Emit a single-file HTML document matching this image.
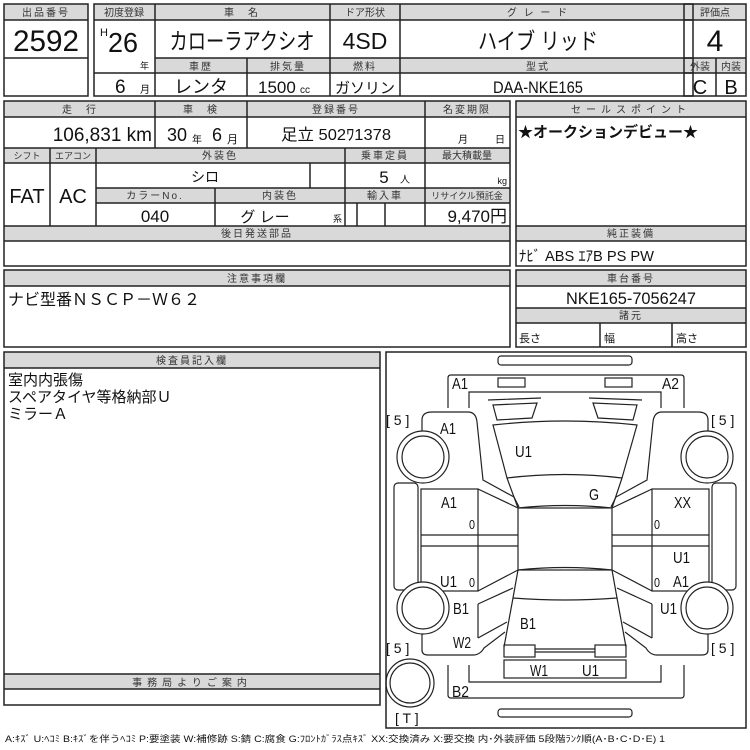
<!DOCTYPE html>
<html><head><meta charset="utf-8"><style>
html,body{margin:0;padding:0;background:#fff;}
svg{display:block;}
text{font-family:"Liberation Sans","Noto Sans CJK JP",sans-serif;fill:#111;}
.h{font-size:10px;letter-spacing:2px;fill:#333;}
.lb{font-size:16px;}
</style></head><body>
<svg width="750" height="750" viewBox="0 0 750 750" xmlns="http://www.w3.org/2000/svg">
<g fill="#d9d9d9" stroke="none">
<rect x="4" y="4" width="84" height="16"/>
<rect x="94" y="4" width="599" height="16"/>
<rect x="155" y="58" width="538" height="15"/>
<rect x="684" y="4" width="62" height="16"/>
<rect x="684" y="58" width="62" height="15"/>
<rect x="4" y="101" width="506" height="16"/>
<rect x="4" y="148" width="506" height="15"/>
<rect x="96" y="188" width="414" height="15"/>
<rect x="4" y="226" width="506" height="15"/>
<rect x="516" y="101" width="230" height="16"/>
<rect x="516" y="226" width="230" height="15"/>
<rect x="4" y="270" width="506" height="16"/>
<rect x="516" y="270" width="230" height="16"/>
<rect x="516" y="308" width="230" height="15"/>
<rect x="4" y="352" width="376" height="16"/>
<rect x="4" y="674" width="376" height="15"/>
</g>
<g fill="none" stroke="#222" stroke-width="1.5">
<rect x="4" y="4" width="84" height="92"/>
<line x1="4" y1="20" x2="88" y2="20"/><line x1="4" y1="58" x2="88" y2="58"/>
<rect x="94" y="4" width="599" height="92"/>
<line x1="94" y1="20" x2="693" y2="20"/><line x1="155" y1="58" x2="693" y2="58"/><line x1="94" y1="73" x2="693" y2="73"/>
<line x1="155" y1="4" x2="155" y2="96"/><line x1="330" y1="4" x2="330" y2="96"/><line x1="400" y1="4" x2="400" y2="96"/><line x1="247" y1="58" x2="247" y2="96"/>
<rect x="684" y="4" width="62" height="92"/>
<line x1="684" y1="20" x2="746" y2="20"/><line x1="684" y1="58" x2="746" y2="58"/><line x1="684" y1="73" x2="746" y2="73"/><line x1="716" y1="58" x2="716" y2="96"/>

<rect x="4" y="101" width="506" height="165"/>
<line x1="4" y1="117" x2="510" y2="117"/><line x1="4" y1="148" x2="510" y2="148"/><line x1="4" y1="163" x2="510" y2="163"/>
<line x1="96" y1="188" x2="510" y2="188"/><line x1="96" y1="203" x2="510" y2="203"/>
<line x1="4" y1="226" x2="510" y2="226"/><line x1="4" y1="241" x2="510" y2="241"/>
<line x1="155" y1="101" x2="155" y2="148"/><line x1="247" y1="101" x2="247" y2="148"/><line x1="425" y1="101" x2="425" y2="226"/>
<line x1="50" y1="148" x2="50" y2="226"/><line x1="96" y1="148" x2="96" y2="226"/><line x1="345" y1="148" x2="345" y2="226"/>
<line x1="310" y1="163" x2="310" y2="188"/><line x1="215" y1="188" x2="215" y2="226"/>
<line x1="357" y1="203" x2="357" y2="226"/><line x1="385" y1="203" x2="385" y2="226"/>

<rect x="516" y="101" width="230" height="165"/>
<line x1="516" y1="117" x2="746" y2="117"/><line x1="516" y1="226" x2="746" y2="226"/><line x1="516" y1="241" x2="746" y2="241"/>

<rect x="4" y="270" width="506" height="77"/><line x1="4" y1="286" x2="510" y2="286"/>
<rect x="516" y="270" width="230" height="77"/>
<line x1="516" y1="286" x2="746" y2="286"/><line x1="516" y1="308" x2="746" y2="308"/><line x1="516" y1="323" x2="746" y2="323"/>
<line x1="600" y1="323" x2="600" y2="347"/><line x1="672" y1="323" x2="672" y2="347"/>

<rect x="4" y="352" width="376" height="353"/>
<line x1="4" y1="368" x2="380" y2="368"/><line x1="4" y1="674" x2="380" y2="674"/><line x1="4" y1="689" x2="380" y2="689"/>
<rect x="386" y="352" width="360" height="376"/>
</g>

<!-- car diagram -->
<g fill="none" stroke="#222" stroke-width="1.2">
<rect x="498" y="356" width="134" height="9" rx="3"/>
<rect x="498" y="709" width="134" height="8" rx="3"/>
<path d="M448,408 L448,378 Q448,375 451,375 L681,375 Q684,375 684,378 L684,408 M469,408 L469,392 L661,392 L661,408"/>
<rect x="498" y="378" width="27" height="9"/>
<rect x="605" y="378" width="27" height="9"/>
<path d="M448,665 L448,695 Q448,698 451,698 L681,698 Q684,698 684,695 L684,665 M469,665 L469,682 L661,682 L661,665"/>
<path d="M488,400 L541,398 M493,405 L537,403 L532,418 L497,420 Z"/>
<path d="M642,400 L589,398 M637,405 L593,403 L598,418 L633,420 Z"/>
<path d="M493,425 Q565,417 637,425 L622,478 Q565,471 507,478 Z"/>
<path d="M507,478 L518,508 Q565,503 612,508 L622,478"/>
<rect x="518" y="508" width="94" height="62"/>
<path d="M518,570 Q565,565 612,570 L617,598 Q565,602 513,598 Z"/>
<path d="M513,598 L504,647 M617,598 L626,647"/>
<rect x="504" y="645" width="31" height="12"/>
<rect x="595" y="645" width="31" height="12"/>
<path d="M535,652 L595,652 M535,649 L595,649"/>
<rect x="504" y="660" width="122" height="18"/>
<g id="side">
<path d="M422,483 L422,420 Q422,412 432,412 L468,412 Q476,412 477,422 L483,480 L514,497 L519,507"/>
<rect x="421" y="489" width="57" height="102"/>
<line x1="421" y1="535" x2="518" y2="535"/><line x1="421" y1="546" x2="518" y2="546"/>
<line x1="478" y1="489" x2="518" y2="508"/><line x1="478" y1="591" x2="518" y2="570"/>
<path d="M478,604 L513,588 M478,638 L507,622 M478,604 L478,638"/>
<path d="M422,590 L422,650 Q422,655 428,655 L473,655 Q480,655 484,648 L505,632"/>
<rect x="394" y="483" width="24" height="107" rx="4"/>
<circle cx="423" cy="457" r="26" fill="#fff"/><circle cx="423" cy="457" r="21"/>
<circle cx="423" cy="608" r="26" fill="#fff"/><circle cx="423" cy="608" r="21"/>
</g>
<use href="#side" transform="translate(1130,0) scale(-1,1)"/>
<circle cx="410" cy="683" r="24"/><circle cx="410" cy="683" r="20"/>
</g>
<g class="lb">
<text x="452" y="389" textLength="16" lengthAdjust="spacingAndGlyphs">A1</text><text x="662" y="389" textLength="17" lengthAdjust="spacingAndGlyphs">A2</text>
<text x="440" y="434" textLength="16" lengthAdjust="spacingAndGlyphs">A1</text><text x="515" y="457" textLength="17" lengthAdjust="spacingAndGlyphs">U1</text><text x="589" y="500" textLength="10" lengthAdjust="spacingAndGlyphs">G</text>
<text x="441" y="508" textLength="16" lengthAdjust="spacingAndGlyphs">A1</text><text x="674" y="508" textLength="17" lengthAdjust="spacingAndGlyphs">XX</text>
<text x="469" y="529" font-size="13" textLength="6" lengthAdjust="spacingAndGlyphs">0</text><text x="654" y="529" font-size="13" textLength="6" lengthAdjust="spacingAndGlyphs">0</text>
<text x="673" y="563" textLength="17" lengthAdjust="spacingAndGlyphs">U1</text>
<text x="440" y="587" textLength="17" lengthAdjust="spacingAndGlyphs">U1</text><text x="469" y="587" font-size="13" textLength="6" lengthAdjust="spacingAndGlyphs">0</text><text x="654" y="587" font-size="13" textLength="6" lengthAdjust="spacingAndGlyphs">0</text><text x="673" y="587" textLength="16" lengthAdjust="spacingAndGlyphs">A1</text>
<text x="453" y="614" textLength="16" lengthAdjust="spacingAndGlyphs">B1</text><text x="660" y="614" textLength="17" lengthAdjust="spacingAndGlyphs">U1</text><text x="520" y="629" textLength="16" lengthAdjust="spacingAndGlyphs">B1</text>
<text x="453" y="648" textLength="18" lengthAdjust="spacingAndGlyphs">W2</text><text x="530" y="676" textLength="18" lengthAdjust="spacingAndGlyphs">W1</text><text x="582" y="676" textLength="17" lengthAdjust="spacingAndGlyphs">U1</text><text x="452" y="697" textLength="17" lengthAdjust="spacingAndGlyphs">B2</text>
</g>
<g font-size="14">
<text x="386" y="425">[ 5 ]</text><text x="711" y="425">[ 5 ]</text>
<text x="386" y="653">[ 5 ]</text><text x="711" y="653">[ 5 ]</text>
<text x="395" y="723">[ T ]</text>
</g>

<!-- texts -->
<text class="h" x="46" y="16" text-anchor="middle">出品番号</text>
<text x="46" y="51" font-size="30" text-anchor="middle" textLength="66" lengthAdjust="spacingAndGlyphs">2592</text>
<text class="h" x="124" y="16" text-anchor="middle" style="letter-spacing:0">初度登録</text>
<text class="h" x="242" y="16" text-anchor="middle">車　名</text>
<text class="h" x="365" y="16" text-anchor="middle" style="letter-spacing:0">ドア形状</text>
<text class="h" x="538" y="16" text-anchor="middle">グ レ ー ド</text>
<text x="100" y="36" font-size="11">H</text>
<text x="108" y="52" font-size="28" textLength="30" lengthAdjust="spacingAndGlyphs">26</text>
<text x="140" y="69" font-size="9">年</text>
<text x="115" y="93" font-size="19">6</text><text x="140" y="93" font-size="10">月</text>
<text x="242" y="49" font-size="23" text-anchor="middle" textLength="145" lengthAdjust="spacingAndGlyphs">カローラアクシオ</text>
<text x="365" y="49" font-size="23" text-anchor="middle">4SD</text>
<text x="538" y="49" font-size="23" text-anchor="middle" textLength="120" lengthAdjust="spacingAndGlyphs">ハイブ リッド</text>
<text class="h" x="201" y="70" text-anchor="middle">車歴</text>
<text class="h" x="288" y="70" text-anchor="middle">排気量</text>
<text class="h" x="365" y="70" text-anchor="middle">燃料</text>
<text class="h" x="538" y="70" text-anchor="middle">型式</text>
<text x="201" y="93" font-size="18" text-anchor="middle">レンタ</text>
<text x="258" y="93" font-size="17">1500</text><text x="300" y="93" font-size="10">cc</text>
<text x="365" y="93" font-size="15" text-anchor="middle" textLength="60" lengthAdjust="spacingAndGlyphs">ガソリン</text>
<text x="538" y="93" font-size="17" text-anchor="middle" textLength="90" lengthAdjust="spacingAndGlyphs">DAA-NKE165</text>
<text class="h" x="715" y="16" text-anchor="middle" style="letter-spacing:0">評価点</text>
<text x="715" y="51" font-size="30" text-anchor="middle">4</text>
<text class="h" x="700" y="70" text-anchor="middle" style="letter-spacing:0">外装</text>
<text class="h" x="731" y="70" text-anchor="middle" style="letter-spacing:0">内装</text>
<text x="700" y="94" font-size="20" text-anchor="middle">C</text>
<text x="731" y="94" font-size="20" text-anchor="middle">B</text>

<text class="h" x="80" y="113" text-anchor="middle">走　行</text>
<text class="h" x="201" y="113" text-anchor="middle">車　検</text>
<text class="h" x="336" y="113" text-anchor="middle">登録番号</text>
<text class="h" x="467" y="113" text-anchor="middle">名変期限</text>
<text x="152" y="141" font-size="19" text-anchor="end">106,831 km</text>
<text x="167" y="141" font-size="18">30</text><text x="192" y="143" font-size="10">年</text><text x="212" y="141" font-size="18">6</text><text x="227" y="143" font-size="11">月</text>
<text x="336" y="140" font-size="16" text-anchor="middle" textLength="110" lengthAdjust="spacingAndGlyphs">足立 502ﾜ1378</text>
<text x="458" y="143" font-size="10">月</text><text x="495" y="143" font-size="10">日</text>
<text class="h" x="27" y="159" text-anchor="middle" style="letter-spacing:0;font-size:9px">シフト</text>
<text class="h" x="73" y="159" text-anchor="middle" style="letter-spacing:0;font-size:9px">エアコン</text>
<text class="h" x="220" y="159" text-anchor="middle">外装色</text>
<text class="h" x="385" y="159" text-anchor="middle">乗車定員</text>
<text class="h" x="467" y="159" text-anchor="middle" style="letter-spacing:0">最大積載量</text>
<text x="27" y="203" font-size="20" text-anchor="middle">FAT</text>
<text x="73" y="203" font-size="20" text-anchor="middle">AC</text>
<text x="205" y="182" font-size="14" text-anchor="middle">シロ</text>
<text x="384" y="183" font-size="17" text-anchor="middle">5</text><text x="400" y="183" font-size="10">人</text>
<text x="507" y="184" font-size="9" text-anchor="end">kg</text>
<text class="h" x="155" y="199" text-anchor="middle">カラーNo.</text>
<text class="h" x="280" y="199" text-anchor="middle">内装色</text>
<text class="h" x="385" y="199" text-anchor="middle">輸入車</text>
<text class="h" x="467" y="199" text-anchor="middle" style="letter-spacing:0;font-size:9px">リサイクル預託金</text>
<text x="155" y="222" font-size="17" text-anchor="middle">040</text>
<text x="265" y="222" font-size="15" text-anchor="middle">グ レー</text>
<text x="333" y="222" font-size="9">系</text>
<text x="507" y="222" font-size="17" text-anchor="end">9,470円</text>
<text class="h" x="257" y="237" text-anchor="middle">後日発送部品</text>

<text class="h" x="631" y="113" text-anchor="middle" style="letter-spacing:5px">セールスポイント</text>
<text x="518" y="137" font-size="15" style="font-weight:bold">★オークションデビュー★</text>
<text class="h" x="631" y="237" text-anchor="middle">純正装備</text>
<text x="519" y="261" font-size="15" textLength="135" lengthAdjust="spacingAndGlyphs">ﾅﾋﾞ ABS ｴｱB PS PW</text>

<text class="h" x="257" y="282" text-anchor="middle">注意事項欄</text>
<text x="8" y="305" font-size="16">ナビ型番ＮＳＣＰ－Ｗ６２</text>
<text class="h" x="631" y="282" text-anchor="middle">車台番号</text>
<text x="631" y="304" font-size="17" text-anchor="middle" textLength="130" lengthAdjust="spacingAndGlyphs">NKE165-7056247</text>
<text class="h" x="631" y="319" text-anchor="middle">諸元</text>
<text x="519" y="342" font-size="11">長さ</text><text x="604" y="342" font-size="11">幅</text><text x="676" y="342" font-size="11">高さ</text>

<text class="h" x="192" y="364" text-anchor="middle">検査員記入欄</text>
<text x="8" y="385" font-size="15">室内内張傷</text>
<text x="8" y="402" font-size="15">スペアタイヤ等格納部Ｕ</text>
<text x="8" y="419" font-size="15">ミラーＡ</text>
<text class="h" x="192" y="686" text-anchor="middle" style="letter-spacing:5px">事務局よりご案内</text>
<text x="5" y="742" font-size="9" textLength="660" lengthAdjust="spacingAndGlyphs">A:ｷｽﾞ U:ﾍｺﾐ B:ｷｽﾞを伴うﾍｺﾐ P:要塗装 W:補修跡 S:錆 C:腐食 G:ﾌﾛﾝﾄｶﾞﾗｽ点ｷｽﾞ XX:交換済み X:要交換 内･外装評価 5段階ﾗﾝｸ順(A･B･C･D･E) 1</text>
</svg>
</body></html>
